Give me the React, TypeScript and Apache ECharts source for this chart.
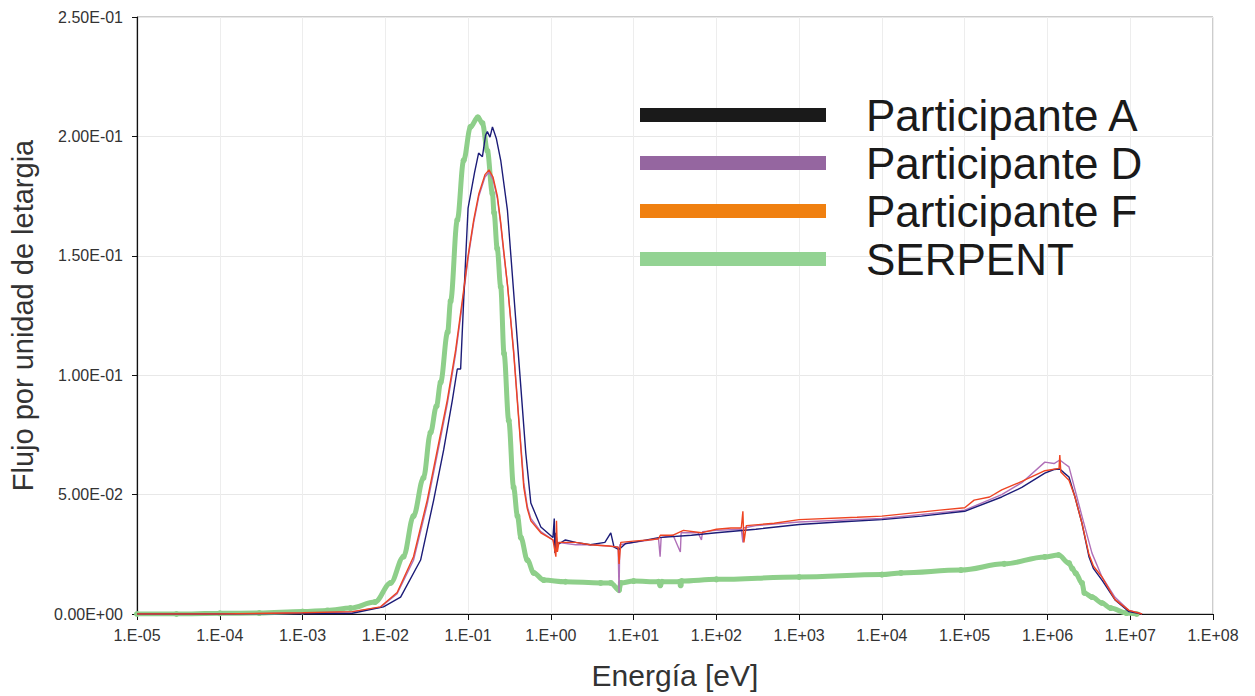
import React, { useEffect, useRef } from "react";
import * as echarts from "echarts";

// Participante A (navy line)
const aEnergy = [1e-5, 1e-4, 1e-3, 0.004, 0.0095, 0.0153, 0.0267, 0.0384, 0.0507, 0.0646, 0.0741, 0.0813, 0.0885, 0.1, 0.12, 0.134, 0.149, 0.163, 0.171, 0.184, 0.197, 0.22, 0.248, 0.299, 0.377, 0.434, 0.498, 0.573, 0.757, 1.06, 1.1, 1.12, 1.15, 1.2, 1.5, 2, 3, 4.5, 5.3, 5.8, 6.67, 8, 10, 20, 50, 100, 300, 1000, 3000, 1e4, 3e4, 1e5, 2.8e5, 4.9e5, 9.3e5, 1.2e6, 1.41e6, 1.6e6, 1.82e6, 2.15e6, 2.61e6, 3.17e6, 3.6e6, 4.56e6, 6.55e6, 9.66e6, 1.39e7];
const aFlux = [0, 0, 0.0001, 0.0003, 0.003, 0.0071, 0.0226, 0.0477, 0.0687, 0.0896, 0.1026, 0.1026, 0.1315, 0.17, 0.185, 0.193, 0.1915, 0.2006, 0.202, 0.1997, 0.204, 0.199, 0.19, 0.169, 0.123, 0.095, 0.0674, 0.0465, 0.0364, 0.032, 0.04, 0.0255, 0.034, 0.029, 0.031, 0.03, 0.029, 0.03, 0.034, 0.028, 0.027, 0.0295, 0.03, 0.032, 0.033, 0.034, 0.0355, 0.0375, 0.0385, 0.0395, 0.041, 0.043, 0.049, 0.053, 0.059, 0.0605, 0.0607, 0.059, 0.0574, 0.049, 0.038, 0.024, 0.019, 0.0142, 0.0059, 0.001, 0];

// Participante D (purple line)
const dEnergy = [1e-5, 1e-4, 1e-3, 0.004, 0.00875, 0.0139, 0.0219, 0.0321, 0.0425, 0.0561, 0.0708, 0.0853, 0.1, 0.117, 0.135, 0.16, 0.179, 0.2, 0.226, 0.248, 0.27, 0.301, 0.356, 0.41, 0.471, 0.52, 0.573, 0.757, 1.06, 1.15, 1.2, 2, 3, 5, 6.5, 6.67, 6.8, 10, 20, 20.9, 21.5, 30, 36.7, 37.5, 60, 66, 68, 100, 200, 209, 212, 300, 1000, 1e4, 1e5, 2.8e5, 4.9e5, 9.3e5, 1.2e6, 1.41e6, 1.6e6, 1.82e6, 2.61e6, 3.45e6, 4.56e6, 6.55e6, 9.66e6, 1.39e7];
const dFlux = [0, 0, 0.0004, 0.0009, 0.0028, 0.0085, 0.0225, 0.046, 0.067, 0.088, 0.109, 0.13, 0.149, 0.164, 0.175, 0.183, 0.185, 0.182, 0.174, 0.163, 0.151, 0.137, 0.11, 0.082, 0.055, 0.045, 0.04, 0.0345, 0.031, 0.028, 0.03, 0.029, 0.029, 0.0285, 0.028, 0.0088, 0.029, 0.03, 0.0315, 0.024, 0.032, 0.033, 0.026, 0.034, 0.034, 0.031, 0.0345, 0.035, 0.0355, 0.03, 0.036, 0.037, 0.0385, 0.04, 0.0435, 0.05, 0.055, 0.0636, 0.063, 0.0645, 0.063, 0.0616, 0.041, 0.0255, 0.0155, 0.007, 0.0015, 0];

// Participante F (red-orange line)
const fEnergy = [1e-5, 1e-4, 1e-3, 0.004, 0.00875, 0.0139, 0.0219, 0.0321, 0.0425, 0.0561, 0.0708, 0.0853, 0.1, 0.117, 0.135, 0.16, 0.179, 0.2, 0.226, 0.248, 0.27, 0.301, 0.356, 0.41, 0.471, 0.52, 0.573, 0.757, 1.06, 1.15, 1.17, 1.2, 1.25, 2, 3, 5, 6.5, 6.67, 7, 10, 15, 20, 21, 30, 40, 66, 100, 150, 200, 209, 215, 230, 500, 1000, 5000, 1e4, 5e4, 1e5, 1.3e5, 2e5, 2.8e5, 4.9e5, 9.3e5, 1.38e6, 1.41e6, 1.45e6, 1.82e6, 2.15e6, 2.61e6, 3.17e6, 3.6e6, 4.56e6, 6.55e6, 9.66e6, 1.39e7];
const fFlux = [0, 0, 0.0005, 0.001, 0.003, 0.009, 0.024, 0.0477, 0.0687, 0.0896, 0.1106, 0.1315, 0.15, 0.165, 0.176, 0.184, 0.186, 0.183, 0.175, 0.164, 0.152, 0.137, 0.109, 0.081, 0.053, 0.044, 0.039, 0.034, 0.031, 0.024, 0.039, 0.026, 0.03, 0.03, 0.029, 0.0285, 0.028, 0.021, 0.03, 0.0305, 0.031, 0.0315, 0.033, 0.033, 0.035, 0.034, 0.0355, 0.036, 0.036, 0.043, 0.03, 0.037, 0.038, 0.0395, 0.0405, 0.041, 0.0435, 0.0445, 0.0477, 0.049, 0.052, 0.0555, 0.06, 0.061, 0.0666, 0.0595, 0.056, 0.049, 0.038, 0.025, 0.02, 0.0155, 0.006, 0.0015, 0];

// SERPENT (green line with dots)
const sEnergy = [1e-5, 3e-5, 1e-4, 3e-4, 1e-3, 0.002, 0.00379, 0.0075, 0.0116, 0.0166, 0.0219, 0.0289, 0.0352, 0.0415, 0.0466, 0.0566, 0.0615, 0.0741, 0.0885, 0.107, 0.131, 0.149, 0.171, 0.197, 0.206, 0.225, 0.248, 0.272, 0.31, 0.355, 0.395, 0.434, 0.52, 0.622, 0.822, 1.5, 4, 5.3, 6.67, 7, 10, 20, 21, 22, 36, 37, 38, 100, 1000, 1e4, 1.7e4, 9e4, 3e5, 9.3e5, 1.36e6, 1.82e6, 2.0e6, 2.2e6, 2.61e6, 2.8e6, 3.45e6, 4.56e6, 5.8e6, 9e6, 1.2e7];
const sFlux = [0, 0, 0.0003, 0.0004, 0.001, 0.0015, 0.0025, 0.005, 0.013, 0.024, 0.041, 0.057, 0.076, 0.087, 0.097, 0.118, 0.131, 0.165, 0.19, 0.204, 0.208, 0.2056, 0.194, 0.176, 0.168, 0.153, 0.137, 0.109, 0.081, 0.053, 0.041, 0.032, 0.0226, 0.0172, 0.0142, 0.0135, 0.013, 0.013, 0.01, 0.013, 0.0138, 0.0135, 0.012, 0.0135, 0.0135, 0.012, 0.0138, 0.0145, 0.0155, 0.0165, 0.0172, 0.0184, 0.021, 0.0239, 0.0247, 0.0213, 0.019, 0.017, 0.013, 0.0088, 0.0071, 0.0046, 0.0025, 0.0004, 0];

const seriesNames = ["Participante A", "Participante D", "Participante F", "SERPENT"];
const lineColors = ["#1c1c78", "#b070b8", "#ee4422", "#8ecf8a"];
const legendColors = ["#1a1a1a", "#9566a0", "#f08010", "#93d393"];
const xMin = 1e-5;
const xMax = 1e8;
const yMin = 0;
const yMax = 0.25;
const yStep = 0.05;

const zip = (xs: number[], ys: number[]) => xs.map((x, i) => [x, ys[i]]);

const pad2 = (n: number) => String(Math.abs(n)).padStart(2, "0");
const fmtY = (v: number) => {
  if (Math.abs(v) < 1e-12) return "0.00E+00";
  const e = Math.floor(Math.log10(Math.abs(v)) + 1e-9);
  const m = v / Math.pow(10, e);
  return m.toFixed(2) + "E" + (e < 0 ? "-" : "+") + pad2(e);
};
const fmtX = (v: number) => {
  const e = Math.round(Math.log10(v));
  return "1.E" + (e < 0 ? "-" : "+") + pad2(e);
};

export default function App() {
  const ref = useRef<HTMLDivElement>(null);
  useEffect(() => {
    if (!ref.current) return;
    const chart = echarts.init(ref.current, undefined, { renderer: "svg" });
    const font = "'Liberation Sans', Arial, sans-serif";
    const datasets = [zip(aEnergy, aFlux), zip(dEnergy, dFlux), zip(fEnergy, fFlux), zip(sEnergy, sFlux)];
    const zOrder = [3, 2, 4, 1];
    chart.setOption({
      animation: false,
      backgroundColor: "#ffffff",
      textStyle: { fontFamily: font },
      grid: {
        left: 137,
        right: 42,
        top: 17,
        bottom: 82,
        show: true,
        borderColor: "#9a9a9a",
        borderWidth: 1,
      },
      legend: {
        orient: "vertical",
        left: 640,
        top: 93,
        padding: 0,
        icon: "rect",
        itemWidth: 186,
        itemHeight: 14,
        itemGap: 4,
        selectedMode: false,
        data: seriesNames.map((n, i) => ({ name: n, itemStyle: { color: legendColors[i] } })),
        textStyle: {
          fontSize: 44,
          lineHeight: 44,
          color: "#1a1a1a",
          fontFamily: font,
          padding: [0, 0, 0, 35],
        },
      },
      xAxis: {
        type: "log",
        logBase: 10,
        min: xMin,
        max: xMax,
        interval: 1,
        splitNumber: 13,
        name: "Energía [eV]",
        nameLocation: "middle",
        nameGap: 46,
        nameTextStyle: { fontSize: 30, color: "#333", fontFamily: font },
        axisLine: { show: true, lineStyle: { color: "#111", width: 1.2 } },
        axisTick: { show: true, length: 6, lineStyle: { color: "#111" } },
        axisLabel: { formatter: fmtX, fontSize: 16, color: "#333", margin: 13 },
        splitLine: { show: true, lineStyle: { color: "#ededed", width: 1 } },
        minorTick: { show: false },
      },
      yAxis: {
        type: "value",
        min: yMin,
        max: yMax,
        interval: yStep,
        name: "Flujo por unidad de letargia",
        nameLocation: "middle",
        nameGap: 100,
        nameTextStyle: { fontSize: 29, color: "#333", fontFamily: font },
        axisLine: { show: true, lineStyle: { color: "#111", width: 1.2 } },
        axisTick: { show: true, length: 5, lineStyle: { color: "#111" } },
        axisLabel: { formatter: fmtY, fontSize: 16, color: "#333", margin: 14 },
        splitLine: { show: true, lineStyle: { color: "#e8e8e8", width: 1 } },
      },
      series: seriesNames.map((n, i) => {
        const isSerpent = i === 3;
        return {
          name: n,
          type: "line",
          data: datasets[i],
          z: zOrder[i],
          color: lineColors[i],
          smooth: isSerpent ? 0.35 : false,
          smoothMonotone: "x",
          showSymbol: isSerpent,
          showAllSymbol: true,
          symbol: "circle",
          symbolSize: isSerpent ? 6 : 0,
          itemStyle: { color: lineColors[i] },
          lineStyle: { color: lineColors[i], width: isSerpent ? 5 : 1.4 },
          emphasis: { disabled: true },
        };
      }),
    });
    return () => chart.dispose();
  }, []);
  return (
    <div
      ref={ref}
      style={{ position: "absolute", left: 0, top: 0, width: 1255, height: 696, background: "#fff" }}
    />
  );
}
